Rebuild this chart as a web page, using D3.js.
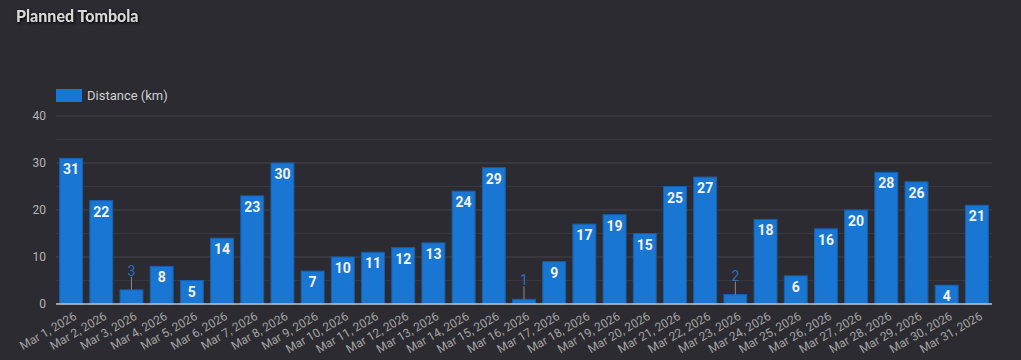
<!DOCTYPE html>
<html>
<head>
<meta charset="utf-8">
<script src="https://cdn.jsdelivr.net/npm/d3@7"></script>
<style>
  html, body { margin: 0; padding: 0; background: #2c2b31; }
  svg { display: block; }
  .title { font-family: 'Lato', sans-serif; font-weight: 900; font-size: 16px; fill: #d8d8d8; }
  .legend, .tick text { font-family: Roboto, sans-serif; }
</style>
</head>
<body>
<script>
const days = d3.range(1, 32).map(d => `Mar ${d}, 2026`);
const distance = [31, 22, 3, 8, 5, 14, 23, 30, 7, 10, 11, 12, 13, 24, 29, 1, 9, 17, 19, 15, 25, 27, 2, 18, 6, 16, 20, 28, 26, 4, 21];
const yTicks = [0, 10, 20, 30, 40];

const width = 1021;
const height = 360;
const margin = {top: 116, right: 29, bottom: 56, left: 56};

const svg = d3.select('body')
  .append('svg')
    .attr('width', width)
    .attr('height', height);

svg.append('text')
    .attr('class', 'title')
    .attr('x', 16)
    .attr('y', 22)
    .attr('filter', 'drop-shadow(1px 1px 1.5px #000)')
    .text('Planned Tombola');

const x = d3.scaleBand()
  .domain(days)
  .range([margin.left, width - margin.right])
  .paddingInner(0.24)
  .paddingOuter(0.12);

const y = d3.scaleLinear()
  .domain([0, 40])
  .range([height - margin.bottom, margin.top]);

// grid, minor lines at the half steps
svg.append('g')
  .selectAll('line')
  .data(d3.range(5, 41, 5))
  .enter().append('line')
    .attr('x1', margin.left)
    .attr('x2', width - margin.right)
    .attr('y1', d => y(d))
    .attr('y2', d => y(d))
    .attr('stroke', d => d % 10 ? '#38373d' : '#45444b')
    .attr('stroke-width', 1);

const yAxis = svg.append('g')
  .attr('transform', `translate(${margin.left - 10},0)`)
  .call(d3.axisLeft(y).tickValues(yTicks).tickSize(0).tickPadding(0));
yAxis.select('.domain').remove();
yAxis.selectAll('text')
  .attr('fill', '#b5b5b5')
  .attr('font-size', 12);

// bars
svg.append('g')
  .selectAll('rect')
  .data(distance)
  .enter().append('rect')
    .attr('x', (d, i) => x(days[i]))
    .attr('y', d => y(d))
    .attr('width', x.bandwidth())
    .attr('height', d => y(0) - y(d))
    .attr('fill', '#1976d2')
    .attr('stroke', '#1560b0')
    .attr('stroke-width', 1);

// value labels
const labels = svg.append('g')
  .attr('font-family', 'Roboto, sans-serif')
  .attr('font-size', 14)
  .attr('text-anchor', 'middle');

distance.forEach((d, i) => {
  const cx = x(days[i]) + x.bandwidth() / 2;
  if (d >= 4) {
    labels.append('text')
      .attr('x', cx)
      .attr('y', y(d) + 16)
      .attr('font-weight', 700)
      .attr('fill', '#f2f2f2')
      .text(d);
  } else {
    labels.append('line')
      .attr('x1', cx).attr('x2', cx)
      .attr('y1', y(d) - 13).attr('y2', y(d))
      .attr('stroke', '#8a8a8a');
    labels.append('text')
      .attr('x', cx)
      .attr('y', y(d) - 14)
      .attr('fill', '#2a6fba')
      .text(d);
  }
});

// baseline
svg.append('line')
  .attr('x1', margin.left)
  .attr('x2', width - margin.right)
  .attr('y1', y(0))
  .attr('y2', y(0))
  .attr('stroke', '#c4c4c4')
  .attr('stroke-width', 1.5);

const xAxis = svg.append('g')
  .attr('transform', `translate(0,${y(0)})`)
  .call(d3.axisBottom(x).tickSize(0).tickPadding(0));
xAxis.select('.domain').remove();
xAxis.selectAll('text')
  .attr('fill', '#a3a3a3')
  .attr('font-size', 12)
  .attr('text-anchor', 'end')
  .attr('dy', null)
  .attr('transform', 'translate(2,7) rotate(-30)')
  .attr('dominant-baseline', 'hanging');

// legend
const legend = svg.append('g').attr('class', 'legend');
legend.append('rect')
  .attr('x', 56).attr('y', 89)
  .attr('width', 26).attr('height', 13)
  .attr('fill', '#1976d2');
legend.append('text')
  .attr('x', 87).attr('y', 100)
  .attr('font-size', 13)
  .attr('fill', '#d0d0d0')
  .text('Distance (km)');
</script>
</body>
</html>
